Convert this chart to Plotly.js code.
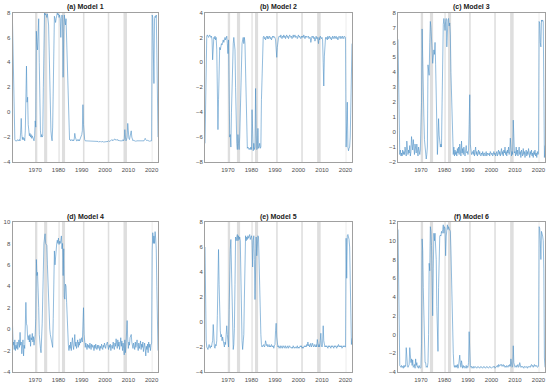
<!DOCTYPE html>
<html><head><meta charset="utf-8">
<script src="https://cdn.plot.ly/plotly-3.0.1.min.js"></script>
<style>html,body{margin:0;padding:0;background:#fff}#chart{width:550px;height:389px}</style>
</head><body><div id="chart"></div>
<script>
// quarterly observations, first one at 1960 Q2
const startYear = 1960.25;
const stepYears = 0.25;

const panelTitles = ["(a) Model 1", "(b) Model 2", "(c) Model 3", "(d) Model 4", "(e) Model 5", "(f) Model 6"];
const xTickYears = [1970, 1980, 1990, 2000, 2010, 2020];
const recessionStart = [1969.92, 1973.83, 1980.0, 1981.5, 1990.5, 2001.17, 2007.92, 2020.08];
const recessionEnd   = [1970.92, 1975.17, 1980.5, 1982.83, 1991.17, 2001.83, 2009.42, 2020.33];

const model1 = [
 7.2, 4.5, 0.5,
 -1.8, -2.2, -2.3, -2.3,
 -2.3, -2.3, -2.2, -2.3,
 -2.3, -2.2, -2.3, -1.6,
 -0.5, -1.8, -2.2, -2.0,
 -2.2, -2.1, -2.3, -1.5,
 1.0, 3.7, 0.8, 1.2,
 -1.0, -1.8, -1.9, -1.7,
 -2.0, -1.8, -2.1, -1.9,
 -2.0, -2.2, -2.3, -1.9,
 -0.7, -1.2, 6.5, 5.5,
 5.0, 6.8, 7.5, 4.0,
 0.5, -1.5, -2.0, -1.8,
 -2.0, -1.9, 2.0, 7.0,
 8.0, 7.8, 7.9, 7.8,
 7.6, 7.9, 7.5, 7.0,
 5.0, 2.0, -0.5, -1.5,
 -2.0, -2.3, -1.2, 3.5,
 7.0, 7.7, 7.5, 7.2,
 7.5, 7.8, 8.0, 7.8,
 7.9, 7.6, 7.8, 7.5,
 6.0, 7.5, 7.8, 7.6,
 2.8, 6.5, 7.8, 7.4,
 7.0, 7.5, 6.0, 4.0,
 3.0, 0.5, -1.5, -2.2,
 -2.2, -2.3, -2.2, -2.3,
 -2.3, -2.2, -2.3, -2.2,
 -1.7, -2.0, -2.2, -2.3,
 -2.3, -2.2, -2.3, -2.2,
 -2.3, -2.2, -2.1, -2.0,
 -1.8, -1.5, 0.6, -1.0,
 -1.9, -2.2, -2.3, -2.3,
 -2.3, -2.35, -2.3, -2.35,
 -2.3, -2.35, -2.35, -2.3,
 -2.35, -2.3, -2.35, -2.3,
 -2.3, -2.35, -2.35, -2.3,
 -2.35, -2.35, -2.3, -2.35,
 -2.35, -2.4, -2.35, -2.35,
 -2.4, -2.35, -2.4, -2.35,
 -2.35, -2.4, -2.4, -2.35,
 -2.4, -2.35, -2.35, -2.4,
 -2.35, -2.35, -2.3, -2.35,
 -2.35, -2.3, -2.3, -2.25,
 -2.2, -2.3, -2.25, -2.2,
 -2.2, -2.15, -2.25, -2.2,
 -2.25, -2.2, -2.2, -2.3,
 -2.25, -2.3, -2.3, -2.25,
 -2.3, -2.25, -2.3, -2.2,
 -2.3, -2.2, -1.4, -2.0,
 -2.3, -2.2, -2.0, -0.9,
 -1.8, -2.1, -2.2, -2.0,
 -1.8, -1.5, -2.0, -2.2,
 -2.3, -2.25, -2.3, -2.3,
 -2.3, -2.35, -2.3, -2.3,
 -2.35, -2.3, -2.3, -2.35,
 -2.3, -2.35, -2.3, -2.3,
 -2.3, -2.3, -2.35, -2.3,
 -2.2, -2.1, -2.2, -2.3,
 -2.3, -2.25, -2.3, -2.3,
 -2.3, -2.35, -2.3, -2.3,
 -2.3, 7.8, 7.6, 5.0,
 2.3, 7.5, 7.7, 7.6,
 7.8, 5.0, 0.5, -2.0
];

const model2 = [
 -6.5, -2.0, 2.0,
 2.1, 2.2, 2.1, 2.0,
 2.1, 2.2, 2.1, 2.0,
 2.1, 1.8, 0.2, 1.5,
 2.0, 1.9, 2.1, 1.8,
 2.0, 1.0, -3.5, -5.4,
 -3.0, 0.5, 1.2, 1.0,
 1.3, 1.5, 1.4, 1.7,
 1.8, 1.6, 1.9, 2.0,
 1.8, 2.0, 2.1, 1.5,
 0.7, 1.8, -3.0, -6.0,
 -5.8, -6.8, -4.0, -1.0,
 0.5, 1.5, 2.0, 1.5,
 1.0, -2.0, -5.0, -6.5,
 -7.0, -5.8, -6.5, -7.0,
 -6.0, -4.0, -2.0, 0.5,
 1.5, 1.8, 2.0, 1.5,
 2.0, 1.5, -1.0, -4.0,
 -6.8, -6.9, -6.8, -7.0,
 -7.0, -6.9, -7.0, -6.8,
 -7.0, -3.8, -6.9, -7.1,
 -6.5, -7.0, -6.8, -2.1,
 -5.5, -7.0, -6.9, -5.3,
 -6.9, -6.8, -6.5, -6.9,
 -6.8, -3.0, -1.0, 1.8,
 2.0, 2.1, 1.9, 2.0,
 1.8, 2.0, 2.1, 1.9,
 2.1, 1.9, 2.0, 2.1,
 1.9, 2.0, 1.8, 2.0,
 2.1, 2.0, 2.1, 2.0,
 2.0, 1.8, 1.0, 0.4,
 1.2, 1.8, 2.0, 2.1,
 2.1, 2.0, 2.2, 2.0,
 1.9, 2.1, 2.0, 2.2,
 2.0, 2.1, 1.9, 2.1,
 2.2, 2.0, 2.1, 1.9,
 2.0, 2.2, 2.1, 2.0,
 2.1, 1.9, 2.0, 2.2,
 2.0, 2.1, 2.2, 2.0,
 2.1, 2.0, 1.9, 2.1,
 2.2, 2.0, 2.1, 2.0,
 1.9, 2.1, 2.0, 2.1,
 2.0, 2.2, 2.0, 1.9,
 2.1, 2.0, 2.1, 2.0,
 2.0, 2.1, 1.9, 2.0,
 2.0, 1.6, 2.0, 2.1,
 2.0, 2.1, 1.9, 2.0,
 1.7, 2.0, 2.1, 1.9,
 2.0, 1.8, 1.5, 2.0,
 1.8, 2.1, 2.0, 1.9,
 2.0, 1.8, 0.0, -1.9,
 0.5, 1.6, 2.0, 1.9,
 2.0, 1.8, 2.1, 1.9,
 2.0, 2.1, 1.9, 2.0,
 1.8, 2.0, 2.1, 1.9,
 2.0, 2.1, 1.9, 2.0,
 2.1, 1.9, 2.0, 1.8,
 2.0, 2.1, 2.0, 1.9,
 2.1, 2.0, 1.9, 2.1,
 2.0, 1.9, 2.1, 2.0,
 2.0, -6.8, -5.0, -3.2,
 -6.8, -7.1, -6.9, -6.8,
 -6.0, -3.0, 0.0, 1.5
];

const model3 = [
 6.2, 2.0, -1.0,
 -1.5, -1.2, -1.6, -1.4,
 -1.6, -1.2, -1.5, -1.3,
 -1.5, -1.0, -1.4, -1.6,
 -0.6, -1.0, -1.5, -1.2,
 -1.4, -0.9, -1.6, -1.3,
 -0.3, -0.8, -1.2, -0.5,
 -0.9, -1.5, -0.8, -1.1,
 -1.4, -0.8, -1.2, -1.6,
 -1.0, -1.3, -1.5, -1.2,
 0.0, 2.0, 6.9, 5.5,
 4.0, 1.0, -0.5, -1.2,
 -1.2, -1.8, -1.5, -1.0,
 4.5, 4.0, 3.8, 6.0,
 7.4, 7.0, 6.5, 5.5,
 4.6, 5.0, 5.5, 5.2,
 6.0, 4.5, 2.5, 0.5,
 -1.5, -0.5, 0.9, -0.2,
 -0.7, -1.0, -0.8, -1.0,
 2.0, 7.0, 7.2, 7.6,
 7.0, 6.8, 7.4, 7.6,
 5.7, 7.3, 7.5, 7.6,
 7.1, 7.3, 6.5, 4.0,
 2.0, 0.0, -1.3, -1.5,
 -1.0, -1.6, -1.2, -1.5,
 -1.3, -1.6, -1.1, -1.4,
 -1.0, -1.5, -0.8, -1.3,
 -1.6, -0.6, -1.4, -1.1,
 -1.5, -1.0, -1.3, -1.6,
 -1.2, -0.9, -1.4, -1.3,
 -1.5, -1.2, 0.5, 2.5,
 -0.8, -1.3, -1.5, -1.4,
 -1.3, -1.5, -1.2, -1.6,
 -1.4, -1.0, -1.5, -1.3,
 -1.6, -1.4, -1.2, -1.5,
 -1.3, -1.5, -1.6, -1.4,
 -1.5, -1.3, -1.6, -1.4,
 -1.4, -1.6, -1.5, -1.3,
 -1.6, -1.4, -1.5, -1.5,
 -1.4, -1.6, -1.3, -1.5,
 -1.5, -1.4, -1.6, -1.5,
 -1.3, -1.5, -1.4, -1.6,
 -1.5, -1.3, -1.6, -1.4,
 -1.2, -1.5, -1.3, -1.6,
 -1.4, -1.1, -1.5, -1.3,
 -1.6, -1.2, -1.4, -1.0,
 -1.5, -1.3, -1.6, -1.2,
 -1.4, -1.0, -1.5, -1.3,
 -0.4, -1.2, -1.6, -1.3,
 -1.5, 0.8, -1.0, -1.4,
 -1.3, -1.6, -1.0, -1.5,
 -1.2, -1.6, -1.3, -1.0,
 -1.5, -1.3, -1.7, -1.2,
 -1.4, -1.6, -1.1, -1.5,
 -1.3, -1.7, -1.4, -1.2,
 -1.6, -1.3, -1.5, -1.1,
 -1.4, -1.7, -1.3, -1.5,
 -1.2, -1.6, -1.4, -1.7,
 -1.3, -1.5, -1.2, -1.6,
 -1.4, -1.7, -1.3, -1.5,
 -1.4, 7.4, 7.3, 6.0,
 5.7, 7.5, 7.4, 7.5,
 7.4, 3.0, -1.7, -0.9
];

const model4 = [
 0.4, -1.5, -1.2,
 -1.9, -1.0, -2.0, -1.5,
 -1.8, -1.2, -1.9, -1.6,
 -1.0, -1.7, -0.3, -1.5,
 -1.2, -2.3, -1.7, -1.0,
 -2.5, -1.5, -1.8, 0.0,
 2.5, 0.5, 0.3, -0.8,
 -1.0, -0.6, -1.2, -0.5,
 -1.6, -0.8, -1.0, -0.4,
 -1.2, -0.7, -1.5, -1.0,
 -0.5, 1.0, 6.5, 5.0,
 5.3, 4.0, 2.0, -0.5,
 -1.5, -1.8, -2.2, -1.0,
 0.5, 3.0, 7.5, 8.0,
 8.5, 8.9, 8.0, 7.8,
 7.8, 6.0, 4.0, 2.0,
 1.0, 0.0, -0.5, -0.8,
 -1.0, -1.3, -1.7, 1.0,
 5.0, 7.3, 6.0, 7.0,
 7.5, 8.0, 8.3, 8.0,
 8.5, 7.9, 8.2, 8.0,
 8.3, 8.7, 7.5, 8.0,
 5.0, 7.5, 3.0, 2.8,
 4.2, 4.0, 2.5, 1.0,
 -1.0, -1.5, -2.0, -1.5,
 -1.8, -1.2, -2.0, -1.4,
 -0.8, -1.5, -1.9, -1.3,
 -0.5, -1.6, -1.2, -1.8,
 -1.4, -1.0, -1.7, -1.2,
 -1.5, -0.9, -1.3, -1.1,
 -0.8, -1.2, 0.5, 2.0,
 -0.5, -1.5, -1.7, -1.3,
 -1.6, -1.9, -1.4, -1.7,
 -1.5, -1.8, -1.3, -1.6,
 -1.9, -1.4, -1.7, -1.5,
 -1.6, -2.0, -1.5, -1.8,
 -1.4, -1.7, -1.9, -1.5,
 -1.8, -1.5, -1.6, -2.0,
 -1.6, -1.8, -1.4, -1.7,
 -1.9, -1.5, -1.7, -1.3,
 -1.6, -1.8, -1.5, -1.4,
 -1.2, -1.6, -1.9, -1.5,
 -1.7, -1.4, -2.0, -1.6,
 -1.5, -1.8, -1.2, -1.7,
 -1.9, -1.3, -1.6, -0.9,
 -1.5, -1.8, -1.0, -1.6,
 -1.2, -1.9, -1.4, -0.8,
 -1.6, -1.1, -2.0, -1.3,
 -1.8, -2.4, -1.0, -2.2,
 -1.4, -0.5, 0.8, -1.0,
 -1.8, -1.2, -1.5, -0.8,
 -0.6, -0.5, -1.2, -1.5,
 -1.8, -1.3, -1.6, -1.9,
 -1.2, -1.7, -1.4, -1.0,
 -1.6, -2.0, -1.3, -1.8,
 -1.5, -1.1, -1.9, -1.4,
 -1.7, -1.2, -2.1, -1.5,
 -1.3, -1.8, -2.5, -1.6,
 -1.9, -1.4, -2.2, -1.2,
 -1.7, -1.4, -2.0, -1.5,
 -1.3, 7.3, 9.0, 8.0,
 8.7, 8.0, 9.1, 8.5,
 7.5, 4.0, -1.0, -2.0
];

const model5 = [
 6.0, 1.0, -1.5,
 -2.0, -2.1, -2.2, -2.0,
 -1.8, -2.0, -2.1, -1.9,
 -2.0, -1.7, -1.5, -0.2,
 -1.5, -2.0, -2.1, -1.8,
 -1.9, -1.5, 0.5, 3.5,
 5.8, 3.0, 0.0, -0.7,
 -1.2, -1.0, -1.5, -1.2,
 -1.5, -1.8, -2.0, -1.6,
 -1.8, -1.0, -0.3, -1.0,
 -1.5, -2.0, 1.0, 5.5,
 5.8, 6.6, 4.0, 0.5,
 -1.0, -2.2, -1.8, -0.5,
 3.0, 6.8, 6.5, 6.8,
 7.0, 6.5, 6.9, 6.6,
 6.8, 6.5, 3.0, -0.5,
 -1.5, -2.2, -1.8, -1.0,
 2.0, 6.5, 6.9, 6.5,
 6.8, 6.6, 6.9, 6.7,
 6.8, 7.0, 6.6, 6.8,
 6.9, 6.5, 4.4, 6.5,
 6.9, 5.0, 1.8, 4.0,
 6.8, 5.3, 6.5, 6.9,
 6.8, 4.0, 2.0, 0.0,
 -1.0, -1.8, -2.0, -1.9,
 -1.9, -1.8, -2.0, -1.9,
 -1.5, -1.7, -1.9, -1.8,
 -2.0, -1.9, -1.8, -2.0,
 -1.9, -2.0, -1.8, -1.9,
 -2.0, -1.9, -2.1, -1.9,
 -1.8, -0.7, -0.1, -1.2,
 -1.8, -2.0, -1.9, -2.1,
 -2.0, -1.9, -2.1, -2.0,
 -1.9, -2.1, -2.0, -1.9,
 -2.0, -2.1, -1.9, -2.0,
 -2.1, -2.0, -1.9, -2.1,
 -2.0, -1.9, -2.0, -2.1,
 -2.1, -2.0, -2.1, -1.9,
 -2.0, -2.1, -2.0, -2.0,
 -2.1, -2.0, -1.9, -2.1,
 -2.0, -2.1, -2.0, -1.9,
 -2.0, -1.9, -2.1, -2.0,
 -2.1, -2.0, -1.9, -2.0,
 -1.9, -2.0, -1.8, -1.9,
 -1.6, -1.9, -1.8, -2.0,
 -1.9, -1.7, -2.0, -1.9,
 -1.7, -1.9, -2.0, -1.8,
 -1.9, -2.0, -1.8, -2.0,
 -1.4, -1.9, -2.0, -1.8,
 -2.0, -1.5, -0.9, -1.8,
 -2.0, -1.7, -0.3, -1.5,
 -1.8, -2.0, -1.9, -2.0,
 -1.9, -2.0, -2.1, -1.9,
 -2.0, -1.9, -2.0, -2.1,
 -1.9, -2.0, -1.9, -2.0,
 -2.1, -1.9, -2.0, -1.9,
 -2.0, -2.1, -1.9, -2.0,
 -1.8, -1.9, -2.0, -1.9,
 -2.0, -1.9, -2.1, -2.0,
 -1.9, -2.0, -1.9, -2.0,
 -2.0, 6.7, 3.5, 6.9,
 7.0, 6.8, 6.6, 6.0,
 4.0, 0.0, -1.8, -1.3
];

const model6 = [
 11.2, 4.0, -2.5,
 -3.3, -3.4, -3.5, -3.3,
 -3.5, -3.4, -3.6, -3.3,
 -3.5, -3.3, -3.4, -1.4,
 -3.0, -3.3, -3.5, -3.4,
 -3.2, -1.4, -2.4, -3.0,
 -2.6, -3.3, -2.7, -3.5,
 -3.4, -3.2, -3.6, -2.6,
 -3.3, -3.0, -3.5, -3.4,
 -3.6, -3.3, -3.5, -3.6,
 -3.5, -1.0, 10.2, 9.0,
 5.0, 2.0, -1.5, -3.0,
 -3.0, -3.5, -3.4, -3.5,
 -3.0, 0.0, 7.6, 6.8,
 11.5, 11.0, 9.5, 5.0,
 2.0, 7.0, 10.8, 10.0,
 10.8, 9.5, 8.0, 3.0,
 0.0, -1.8, 5.0, 10.5,
 10.5, 10.6, 10.5, 11.0,
 10.8, 11.2, 11.7, 10.8,
 11.5, 11.3, 8.4, 10.5,
 11.5, 11.7, 11.2, 11.5,
 11.3, 11.2, 11.0, 9.0,
 5.0, 2.0, -0.5, -2.0,
 -3.2, -3.5, -3.3, -3.5,
 -3.3, -3.5, -3.2, -3.6,
 -3.4, -3.0, -2.2, -3.0,
 -3.5, -2.8, -3.4, -3.6,
 -3.3, -3.5, -3.4, -3.6,
 -3.5, -3.3, -3.6, -3.4,
 -3.5, -3.0, 0.3, -2.0,
 -3.3, -3.5, -3.4, -3.6,
 -3.5, -3.4, -3.6, -3.5,
 -3.4, -3.5, -3.5, -3.6,
 -3.5, -3.4, -3.5, -3.5,
 -3.6, -3.5, -3.4, -3.5,
 -3.5, -3.6, -3.5, -3.4,
 -3.5, -3.5, -3.6, -3.5,
 -3.4, -3.5, -3.5, -3.6,
 -3.5, -3.4, -3.5, -3.5,
 -3.6, -3.5, -3.5, -3.4,
 -3.5, -3.4, -3.6, -3.5,
 -3.5, -3.4, -3.3, -3.5,
 -3.2, -3.4, -3.3, -3.2,
 -3.3, -3.2, -3.4, -3.3,
 -3.2, -3.4, -3.3, -3.5,
 -3.4, -3.5, -3.3, -3.4,
 -3.5, -3.3, -3.4, -3.2,
 -3.4, -2.6, -3.3, -3.5,
 -3.4, -1.2, -3.0, -3.4,
 -3.5, -3.4, -3.3, -3.5,
 -3.4, -3.2, -3.5, -3.4,
 -3.0, -3.4, -3.5, -3.4,
 -3.5, -3.4, -3.5, -3.6,
 -3.4, -3.5, -3.5, -3.4,
 -3.5, -3.6, -3.4, -3.5,
 -3.5, -3.4, -3.5, -3.3,
 -3.2, -3.4, -3.3, -3.5,
 -3.3, -3.2, -3.4, -3.3,
 -3.4, -3.3, -3.5, -3.4,
 -3.4, 11.5, 11.3, 10.0,
 8.0, 11.0, 10.8, 10.5,
 10.0, 7.0, -2.5, -3.5
];

const series = [model1, model2, model3, model4, model5, model6];

// ---- layout ----
const W = 550, H = 389;
const colPx = [[12.5, 158], [205, 352], [398, 545]];
const rowPx = [[12.5, 162], [222, 372]];
const yRanges = [[-4, 8], [-8, 4], [-2, 8], [-4, 10], [-4, 8], [-4, 12]];
const yDticks = [2, 2, 1, 2, 2, 2];

const FONT = "Liberation Sans, Arial, sans-serif";
const lineColor = "#4a8fc6";
const axisColor = "#a0a0a0";
const tickColor = "#4d4d4d";

const data = [];
const layout = {
  width: W, height: H,
  margin: {l: 0, r: 0, t: 0, b: 0},
  paper_bgcolor: "#fff", plot_bgcolor: "#fff",
  showlegend: false,
  font: {family: FONT, size: 6, color: tickColor},
  shapes: [], annotations: []
};

series.forEach((vals, k) => {
  const n = k + 1;
  const sfx = n === 1 ? "" : String(n);
  const r = Math.floor(k / 3), c = k % 3;
  const xs = vals.map((_, i) => startYear + i * stepYears);
  data.push({
    type: "scatter", mode: "lines", x: xs, y: vals,
    xaxis: "x" + sfx, yaxis: "y" + sfx,
    line: {color: lineColor, width: 0.6},
    hoverinfo: "skip"
  });
  const xd = [colPx[c][0] / W, colPx[c][1] / W];
  const yd = [1 - rowPx[r][1] / H, 1 - rowPx[r][0] / H];
  layout["xaxis" + sfx] = {
    domain: xd, anchor: "y" + sfx,
    range: [startYear, startYear + (vals.length - 1) * stepYears],
    tickvals: xTickYears, ticktext: xTickYears.map(String),
    showgrid: false, zeroline: false,
    showline: true, mirror: true, linecolor: axisColor, linewidth: 1,
    ticks: "outside", ticklen: 2, tickcolor: "rgba(0,0,0,0)",
    tickfont: {family: FONT, size: 6, color: tickColor}
  };
  layout["yaxis" + sfx] = {
    domain: yd, anchor: "x" + sfx,
    range: yRanges[k], dtick: yDticks[k],
    showgrid: false, zeroline: false,
    showline: true, mirror: true, linecolor: axisColor, linewidth: 1,
    ticks: "", tickfont: {family: FONT, size: 6, color: tickColor}
  };
  recessionStart.forEach((s, j) => {
    layout.shapes.push({
      type: "rect", layer: "below", xref: "x" + sfx, yref: "y" + sfx + " domain",
      x0: s, x1: recessionEnd[j], y0: 0, y1: 1,
      fillcolor: "#dedede", line: {width: 0}
    });
  });
  layout.annotations.push({
    text: "<b>" + panelTitles[k] + "</b>",
    xref: "paper", yref: "paper",
    x: (xd[0] + xd[1]) / 2, y: 1 - (r === 0 ? 7.3 : 217.3) / H,
    xanchor: "center", yanchor: "middle", showarrow: false,
    font: {family: FONT, size: 7, color: "#1a1a1a"}
  });
});

Plotly.newPlot("chart", data, layout, {staticPlot: true, displayModeBar: false});
</script>
</body></html>
